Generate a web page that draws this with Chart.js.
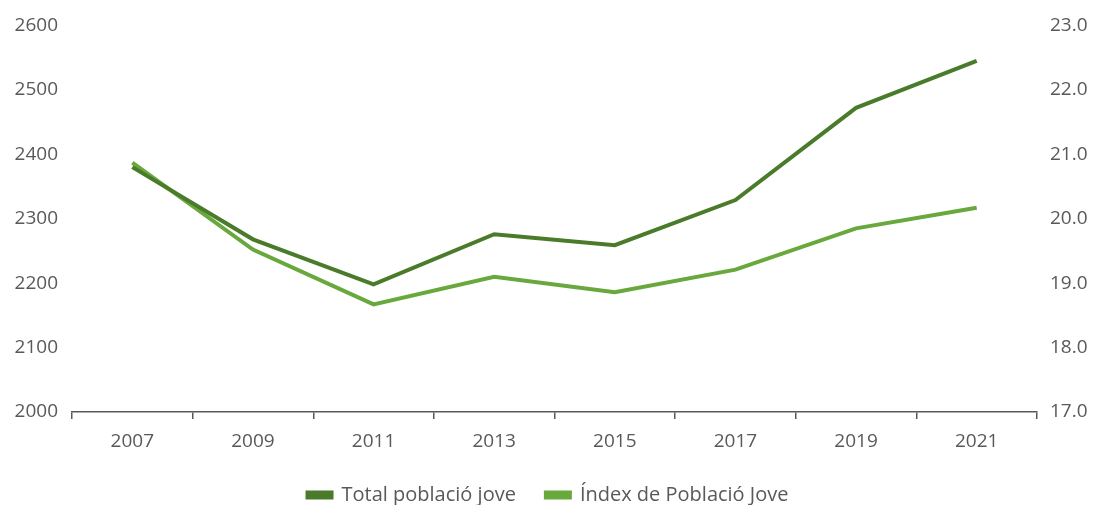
<!DOCTYPE html>
<html lang="ca">
<head>
  <meta charset="utf-8">
  <title>Població jove</title>
  <script src="https://cdn.jsdelivr.net/npm/chart.js"></script>
  <style>
    html, body { margin: 0; padding: 0; background: #fff; }
    #wrap { width: 1096px; height: 505px; }
  </style>
</head>
<body>
  <div id="wrap">
    <canvas id="myChart" width="1096" height="505"></canvas>
  </div>
  <script>
    // values
    const years = ['2007', '2009', '2011', '2013', '2015', '2017', '2019', '2021'];
    const totalJove = [2380, 2268, 2198, 2276, 2259, 2329, 2472, 2545];
    const indexJove = [20.87, 19.52, 18.67, 19.10, 18.86, 19.21, 19.85, 20.17];

    const grey = '#595959';
    const darkGreen = '#4a7b2b';
    const lightGreen = '#69a83c';
    Chart.defaults.font.family = '"Open Sans", sans-serif';
    Chart.defaults.font.size = 19;
    Chart.defaults.color = grey;

    var ctx = document.getElementById('myChart').getContext('2d');
    var myChart = new Chart(ctx, {
      type: 'line',
      data: {
        labels: years,
        datasets: [{
          label: 'Total població jove',
          data: totalJove,
          borderColor: darkGreen,
          backgroundColor: darkGreen,
          borderWidth: 4,
          pointRadius: 0,
          yAxisID: 'y'
        }, {
          label: 'Índex de Població Jove',
          data: indexJove,
          borderColor: lightGreen,
          backgroundColor: lightGreen,
          borderWidth: 4,
          pointRadius: 0,
          yAxisID: 'y1'
        }]
      },
      options: {
        responsive: false,
        animation: false,
        layout: { padding: { top: 12, left: 0, right: 0, bottom: -10 } },
        plugins: {
          legend: {
            position: 'bottom',
            labels: {
              boxWidth: 24,
              boxHeight: 5,
              padding: 30,
              font: { size: 20 }
            }
          },
          tooltip: { enabled: false }
        },
        scales: {
          x: {
            offset: true,
            grid: {
              display: true,
              drawOnChartArea: false,
              offset: true,
              tickLength: 7,
              tickColor: grey,
              lineWidth: 1.5
            },
            border: { display: true, color: grey, width: 1.5 },
            ticks: { padding: 11, maxRotation: 0 },
            afterFit: function(scale) { scale.height = 43; }
          },
          y: {
            position: 'left',
            min: 2000,
            max: 2600,
            grid: { display: false, drawTicks: false },
            border: { display: false },
            ticks: {
              stepSize: 100,
              padding: 14,
              callback: function(v) { return String(v); }
            },
            afterFit: function(scale) { scale.width = 72; }
          },
          y1: {
            position: 'right',
            min: 17,
            max: 23,
            grid: { display: false, drawTicks: false },
            border: { display: false },
            ticks: {
              stepSize: 1,
              padding: 13,
              callback: function(v) { return Number(v).toFixed(1); }
            },
            afterFit: function(scale) { scale.width = 59; }
          }
        }
      }
    });
  </script>
</body>
</html>
